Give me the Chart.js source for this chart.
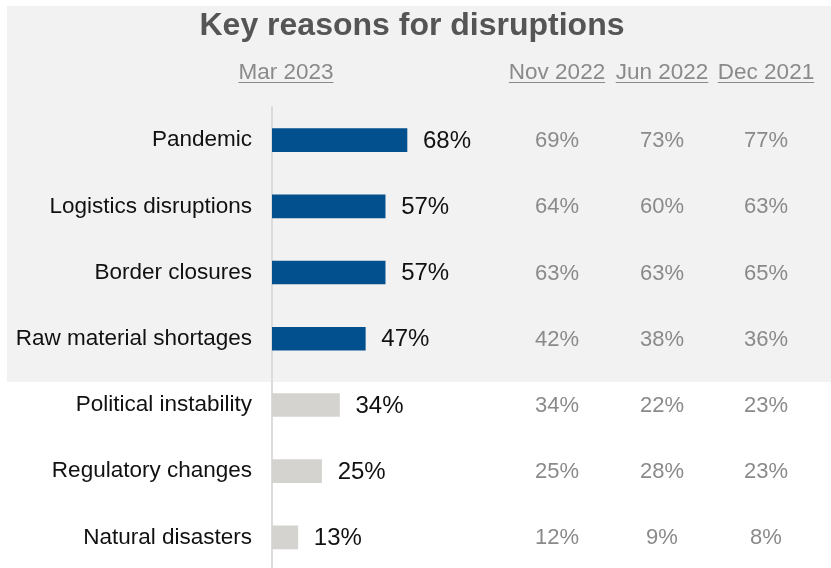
<!DOCTYPE html>
<html>
<head>
<meta charset="utf-8">
<script src="https://cdn.jsdelivr.net/npm/chart.js@4.4.1/dist/chart.umd.min.js"></script>
<style>
  html, body { margin: 0; padding: 0; background: #fff; overflow: hidden; }
  canvas { display: block; }
</style>
</head>
<body>
<canvas id="chart" width="831" height="604"></canvas>
<script>
// Data
const categories = ["Pandemic", "Logistics disruptions", "Border closures", "Raw material shortages",
    "Political instability", "Regulatory changes", "Natural disasters"];
const mar2023 = [68, 57, 57, 47, 34, 25, 13];
const nov2022 = [69, 64, 63, 42, 34, 25, 12];
const jun2022 = [73, 60, 63, 38, 22, 28, 9];
const dec2021 = [77, 63, 65, 36, 23, 23, 8];
const periods = ["Mar 2023", "Nov 2022", "Jun 2022", "Dec 2021"];
const highlighted = 4; // first rows shown in blue
const chartTitle = "Key reasons for disruptions";

const FONT = "'Liberation Sans', Arial, Helvetica, sans-serif";
const BLUE = "#03508f";
const LIGHT = "#d4d3cf";
const GREY_TEXT = "#8a8a8a";

// x centres of the older survey columns
const extraCols = [
    { x: 557, values: nov2022, label: periods[1] },
    { x: 662, values: jun2022, label: periods[2] },
    { x: 766, values: dec2021, label: periods[3] }
];

function underlinedText(ctx, text, cx, baseline) {
    ctx.fillText(text, cx, baseline);
    const w = ctx.measureText(text).width;
    ctx.beginPath();
    ctx.moveTo(cx - w / 2, baseline + 3.5);
    ctx.lineTo(cx + w / 2, baseline + 3.5);
    ctx.stroke();
}

// Background panel, title and headers
const decorPlugin = {
    id: "decor",
    beforeDraw(chart) {
        const ctx = chart.ctx;
        const y = chart.scales.y;
        const panelBottom = (y.getPixelForValue(highlighted - 1) + y.getPixelForValue(highlighted)) / 2 + 10;
        ctx.save();
        ctx.fillStyle = "#f2f2f2";
        ctx.fillRect(7, 6, chart.width - 7, panelBottom - 6);

        ctx.fillStyle = "#555555";
        ctx.font = "bold 32px " + FONT;
        ctx.textAlign = "center";
        ctx.textBaseline = "alphabetic";
        ctx.fillText(chartTitle, 412, 35);

        ctx.font = "22.5px " + FONT;
        ctx.fillStyle = GREY_TEXT;
        ctx.strokeStyle = GREY_TEXT;
        ctx.lineWidth = 1;
        underlinedText(ctx, periods[0], chart.chartArea.left + 14, 79);
        extraCols.forEach(c => underlinedText(ctx, c.label, c.x, 79));
        ctx.restore();
    },
    afterDatasetsDraw(chart) {
        const ctx = chart.ctx;
        const x = chart.scales.x;
        const y = chart.scales.y;
        ctx.save();
        ctx.textBaseline = "middle";
        // current values next to bars
        ctx.font = "24px " + FONT;
        ctx.fillStyle = "#111";
        ctx.textAlign = "left";
        mar2023.forEach((v, i) => {
            ctx.fillText(v + "%", x.getPixelForValue(v) + 16, y.getPixelForValue(i) + 1);
        });
        // older surveys
        ctx.font = "22px " + FONT;
        ctx.fillStyle = GREY_TEXT;
        ctx.textAlign = "center";
        extraCols.forEach(c => {
            c.values.forEach((v, i) => {
                ctx.fillText(v + "%", c.x, y.getPixelForValue(i) + 1);
            });
        });
        ctx.restore();
    }
};

new Chart(document.getElementById("chart"), {
    type: "bar",
    data: {
        labels: categories,
        datasets: [{
            label: periods[0],
            data: mar2023,
            backgroundColor: mar2023.map((v, i) => i < highlighted ? BLUE : LIGHT),
            barThickness: 23,
            borderWidth: 0
        }]
    },
    options: {
        indexAxis: "y",
        responsive: false,
        animation: false,
        layout: { padding: { top: 107, right: 360.5, bottom: 1, left: 0 } },
        plugins: {
            legend: { display: false },
            title: { display: false },
            tooltip: { enabled: false }
        },
        scales: {
            x: { display: false, min: 0, max: 100 },
            y: {
                afterFit: scale => { scale.width = 272; },
                grid: { display: false, drawTicks: false },
                border: { display: true, color: "#dcdcdc", width: 2 },
                ticks: {
                    padding: 20,
                    color: "#111",
                    font: { family: FONT, size: 22.5 }
                }
            }
        }
    },
    plugins: [decorPlugin]
});
</script>
</body>
</html>
